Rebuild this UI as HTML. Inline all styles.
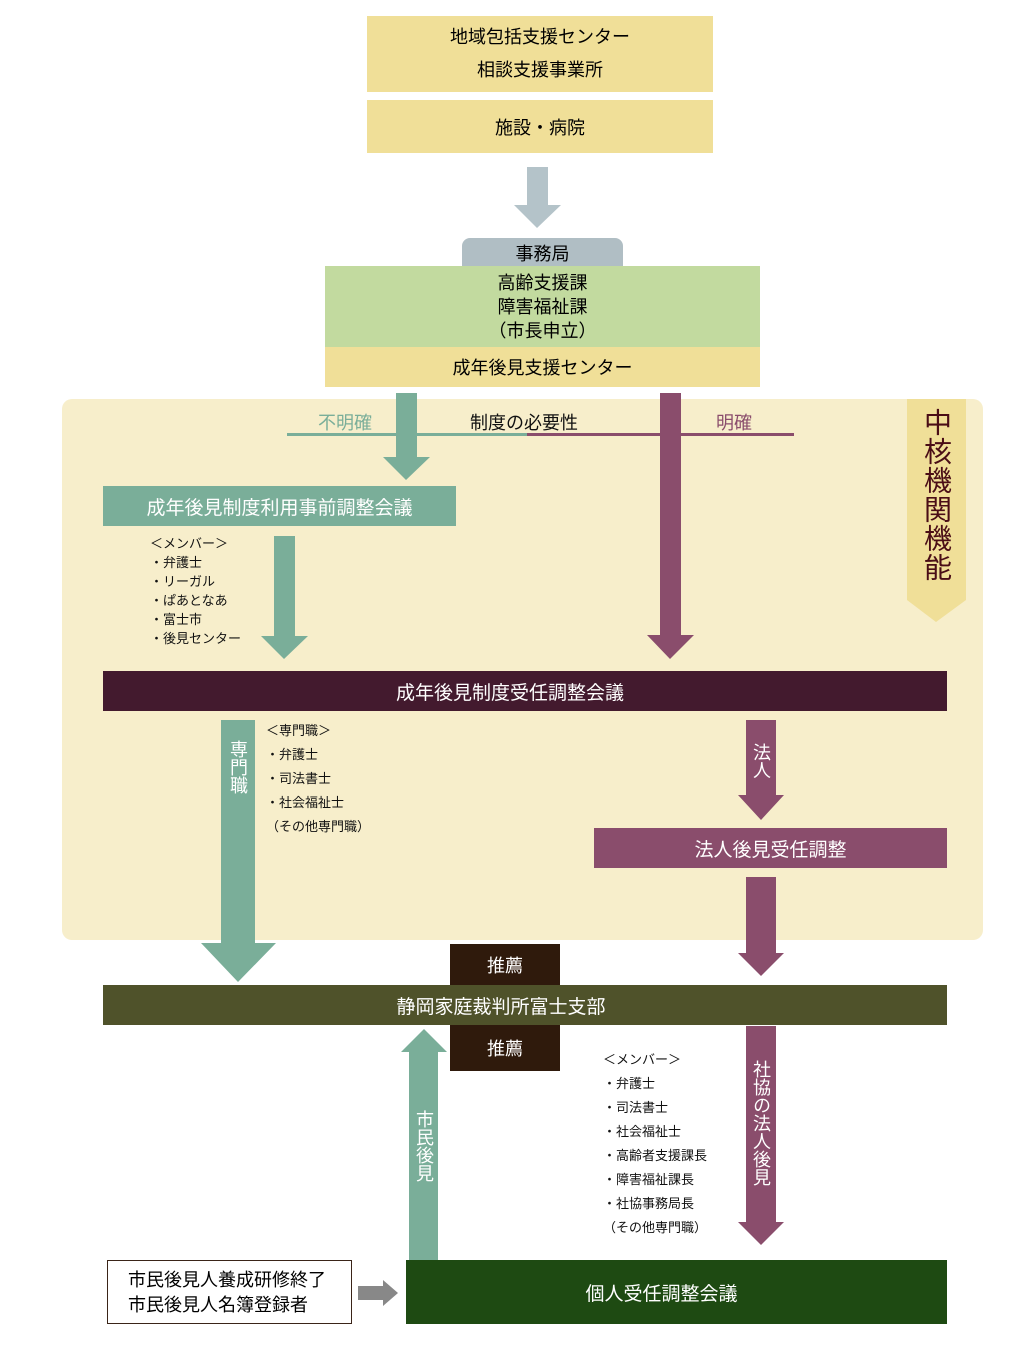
<!DOCTYPE html>
<html><head><meta charset="utf-8"><style>
body{margin:0;width:1027px;height:1357px;background:#fff;position:relative;font-family:"Liberation Sans","Noto Sans CJK JP",sans-serif;overflow:hidden}
.a{position:absolute;box-sizing:border-box}
.c{display:flex;align-items:center;justify-content:center;text-align:center}
.v{writing-mode:vertical-rl;text-orientation:upright}
.l{font-size:13px;color:#111;line-height:19px}
</style></head><body>
<div class="a c" style="left:367px;top:16px;width:346px;height:76px;background:#f0df98;font-size:18px;line-height:33px;flex-direction:column">地域包括支援センター<br>相談支援事業所</div>
<div class="a c" style="left:367px;top:100px;width:346px;height:53px;background:#f0df98;font-size:18px">施設・病院</div>
<div class="a c" style="left:462px;top:238px;width:161px;height:30px;background:#b0bec4;border-radius:8px 8px 0 0;font-size:18px">事務局</div>
<div class="a c" style="left:325px;top:266px;width:435px;height:81px;background:#c2da9f;font-size:18px;line-height:24px">高齢支援課<br>障害福祉課<br>（市長申立）</div>
<div class="a c" style="left:325px;top:347px;width:435px;height:40px;background:#f0df98;font-size:18px">成年後見支援センター</div>
<div class="a" style="left:62px;top:399px;width:921px;height:541px;background:#f7eecb;border-radius:10px"></div>
<svg class="a" style="left:0;top:0" width="1027" height="1357">
<polygon points="527,167 548,167 548,205 561,205 537,228 514,205 527,205" fill="#b4c3c9"/>
<rect x="287" y="433" width="240" height="3" fill="#7aae99"/>
<rect x="527" y="433" width="267" height="3" fill="#8a4d6c"/>
<polygon points="396,393 417,393 417,457 430,457 406,480 383,457 396,457" fill="#7aae99"/>
<polygon points="660,393 681,393 681,635 694,635 670,659 647,635 660,635" fill="#8a4d6c"/>
<polygon points="907,399 966,399 966,600 936,622 907,600" fill="#f0df98"/>
<polygon points="274,536 295,536 295,636 308,636 284,659 261,636 274,636" fill="#7aae99"/>
<polygon points="221,720 255,720 255,943 276,943 238,982 201,943 221,943" fill="#7aae99"/>
<polygon points="746,720 776,720 776,795 784,795 761,820 738,795 746,795" fill="#8a4d6c"/>
<polygon points="746,877 776,877 776,953 784,953 761,976 738,953 746,953" fill="#8a4d6c"/>
<polygon points="746,1026 776,1026 776,1222 784,1222 761,1245 738,1222 746,1222" fill="#8a4d6c"/>
<polygon points="409,1260 438,1260 438,1052 447,1052 424,1029 401,1052 409,1052" fill="#7aae99"/>
<polygon points="358,1286 383,1286 383,1280 398,1293 383,1306 383,1300 358,1300" fill="#888"/>
</svg>
<div class="a" style="left:318px;top:409px;font-size:18px;color:#7aae99">不明確</div>
<div class="a" style="left:470px;top:409px;font-size:18px;color:#111">制度の必要性</div>
<div class="a" style="left:716px;top:409px;font-size:18px;color:#8a4d6c">明確</div>
<div class="a v" style="left:920px;top:408px;font-size:28px;color:#4a0d16;line-height:32px;letter-spacing:1px">中核機関機能</div>
<div class="a c" style="left:103px;top:486px;width:353px;height:40px;background:#7aae99;color:#fff;font-size:19px">成年後見制度利用事前調整会議</div>
<div class="a l" style="left:150px;top:534px">＜メンバー＞<br>・弁護士<br>・リーガル<br>・ぱあとなあ<br>・富士市<br>・後見センター</div>
<div class="a c" style="left:103px;top:671px;width:844px;height:40px;background:#431a2e;color:#fff;font-size:19px;padding-right:30px">成年後見制度受任調整会議</div>
<div class="a v" style="left:228px;top:740px;font-size:18px;color:#fff;line-height:20px">専門職</div>
<div class="a l" style="left:266px;top:719px;line-height:24px">＜専門職＞<br>・弁護士<br>・司法書士<br>・社会福祉士<br>（その他専門職）</div>
<div class="a v" style="left:751px;top:743px;font-size:18px;color:#fff;line-height:20px">法人</div>
<div class="a c" style="left:594px;top:828px;width:353px;height:40px;background:#8a4d6c;color:#fff;font-size:19px">法人後見受任調整</div>
<div class="a c" style="left:450px;top:944px;width:110px;height:41px;background:#2f1a0c;color:#fff;font-size:18px">推薦</div>
<div class="a c" style="left:103px;top:985px;width:844px;height:40px;background:#4f522a;color:#fff;font-size:19px;padding-right:48px">静岡家庭裁判所富士支部</div>
<div class="a c" style="left:450px;top:1025px;width:110px;height:46px;background:#2f1a0c;color:#fff;font-size:18px">推薦</div>
<div class="a v" style="left:414px;top:1110px;font-size:18px;color:#fff;line-height:20px">市民後見</div>
<div class="a l" style="left:603px;top:1048px;line-height:24px">＜メンバー＞<br>・弁護士<br>・司法書士<br>・社会福祉士<br>・高齢者支援課長<br>・障害福祉課長<br>・社協事務局長<br>（その他専門職）</div>
<div class="a v" style="left:751px;top:1060px;font-size:18px;color:#fff;line-height:20px">社協の法人後見</div>
<div class="a" style="left:107px;top:1260px;width:245px;height:64px;border:1px solid #3a2418;background:#fff;font-size:18px;line-height:25px;padding:7px 0 0 20px">市民後見人養成研修終了<br>市民後見人名簿登録者</div>
<div class="a c" style="left:406px;top:1260px;width:541px;height:64px;background:#1e4a12;color:#fff;font-size:19px;padding-right:30px">個人受任調整会議</div>
</body></html>
